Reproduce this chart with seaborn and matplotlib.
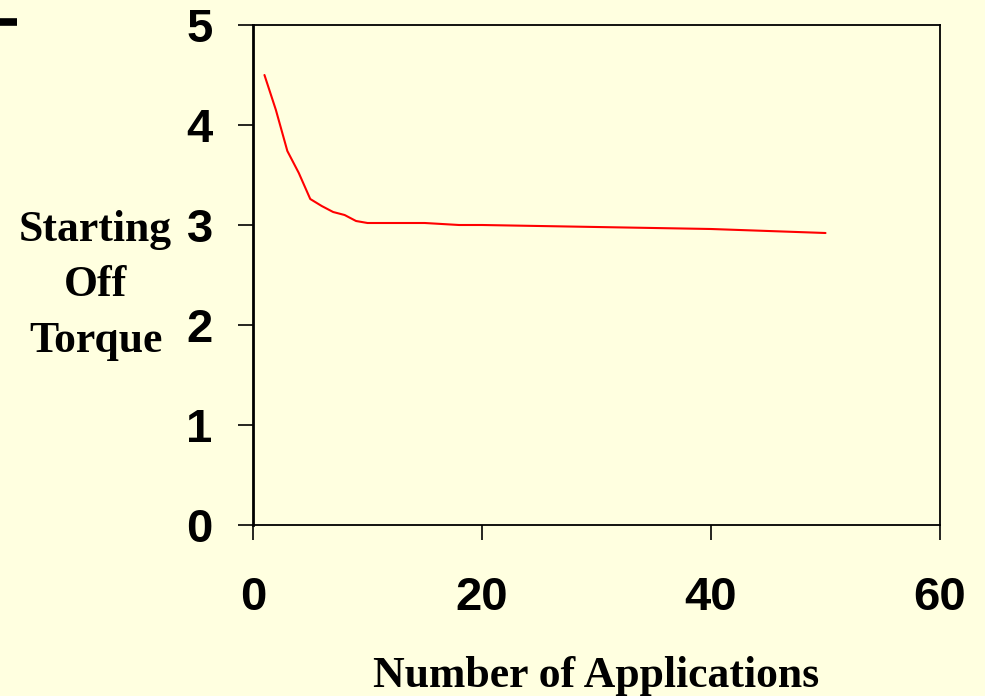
import numpy as np
import pandas as pd
import matplotlib
matplotlib.use('Agg')
import matplotlib.pyplot as plt
import seaborn as sns
from matplotlib.lines import Line2D

# Data
applications = [1, 2, 3, 4, 5, 6, 7, 8, 9, 10, 15, 18, 20, 30, 40, 50]
torque = [4.5, 4.15, 3.74, 3.52, 3.26, 3.19, 3.13, 3.10, 3.04, 3.02,
          3.02, 3.0, 3.0, 2.98, 2.96, 2.92]
x_ticks = [0, 20, 40, 60]
y_ticks = [0, 1, 2, 3, 4, 5]

bg = '#FFFFE0'
sns.set_style('ticks')
plt.rcParams['font.family'] = ['Liberation Sans', 'DejaVu Sans']
plt.rcParams['text.color'] = 'black'
plt.rcParams['axes.labelcolor'] = 'black'
plt.rcParams['xtick.color'] = 'black'
plt.rcParams['ytick.color'] = 'black'

df = pd.DataFrame({'Applications': applications, 'Torque': torque})

fig = plt.figure(figsize=(9.85, 6.96), dpi=100, facecolor=bg)
ax = fig.add_axes([253 / 985, 1 - 525 / 696, 687 / 985, 500 / 696])
ax.set_facecolor(bg)

sns.lineplot(data=df, x='Applications', y='Torque', color='#FF0000',
             linewidth=1.5, ax=ax)

ax.set_xlim(0, 60)
ax.set_ylim(0, 5)
ax.set_xticks(x_ticks)
ax.set_yticks(y_ticks)
ax.tick_params(axis='both', direction='out', length=11, width=1.2,
               color='black', labelcolor='black', labelsize=34)
ax.tick_params(axis='x', pad=26)
ax.tick_params(axis='y', pad=18)
for lab in ax.get_xticklabels() + ax.get_yticklabels():
    lab.set_fontweight('bold')

for side in ['top', 'right', 'bottom']:
    ax.spines[side].set_linewidth(1.3)
    ax.spines[side].set_color('black')
ax.spines['left'].set_linewidth(2)
ax.spines['left'].set_color('black')

serif = ['Liberation Serif', 'DejaVu Serif']
ax.set_xlabel('Number of Applications', family=serif, fontweight='bold',
              fontsize=31.5, va='baseline', color='black')
ax.xaxis.set_label_coords(0.5, -0.324)
ax.set_ylabel('Starting\nOff\nTorque', family=serif, fontweight='bold',
              fontsize=31.5, rotation=0, ha='center', va='center',
              linespacing=1.5, color='black')
ax.yaxis.set_label_coords(-0.229, 0.479)

# small black dash in the top-left corner of the slide
fig.add_artist(Line2D([0, 17 / 985], [1 - 22 / 696, 1 - 22 / 696],
                      color='black', linewidth=5.5, solid_capstyle='butt',
                      transform=fig.transFigure))

fig.savefig('out.png', dpi=100, facecolor=bg)
